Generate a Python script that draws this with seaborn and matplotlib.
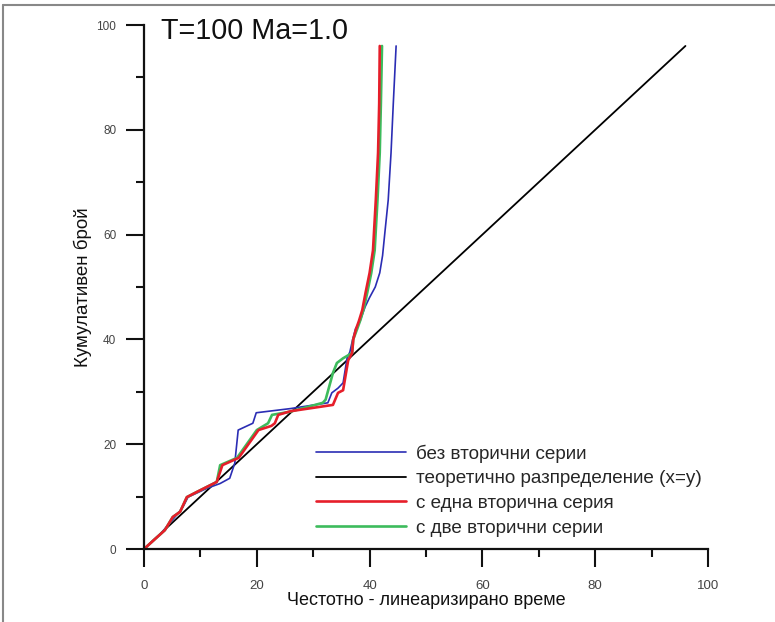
import matplotlib
matplotlib.use("Agg")
import matplotlib.pyplot as plt
import seaborn as sns
import pandas as pd
from matplotlib.lines import Line2D

# ---- data ----
title = "T=100 Ma=1.0"
xlabel = "Честотно - линеаризирано време"
ylabel = "Кумулативен брой"
ticks = [0, 20, 40, 60, 80, 100]
minor_ticks = [10, 30, 50, 70, 90]

names = ["без вторични серии", "теоретично разпределение (x=y)",
         "с една вторична серия", "с две вторични серии"]
colors = ["#2b2db4", "#000000", "#e61e2a", "#3dbb5c"]
widths = [1.2, 1.3, 1.9, 1.9]

blue_x = [0, 3, 5.8, 6.9, 7.8, 11.2, 13.5, 15.2, 16.1, 16.7, 19.3, 19.9, 26, 32.6, 33.3,
          34.4, 35.3, 36.0, 36.5, 37, 37.5, 38.3, 39.2, 40, 41, 41.8, 42.3, 42.7, 43.3,
          43.8, 44.2, 44.7]
blue_y = [0, 3, 6.5, 8, 9.9, 11.6, 12.5, 13.5, 16.4, 22.7, 24, 26, 26.8, 27.9, 29.8,
          30.7, 31.7, 36.4, 37.6, 40, 42, 43.5, 46.2, 48, 50, 52.7, 56, 60.3, 66.6,
          75.6, 85, 96]

theory_x = [0, 96]
theory_y = [0, 96]

red_x = [0, 3.7, 5.1, 6.4, 7.6, 9.4, 12.9, 13.9, 16.8, 20.3, 22.6, 23.2, 23.8, 26,
         33.5, 34.4, 35.3, 36.2, 36.9, 37.1, 37.6, 38.1, 38.7, 39.3, 40, 40.6, 41.1,
         41.5, 41.7, 41.8]
red_y = [0, 3.6, 6.1, 7.1, 9.9, 10.9, 12.8, 16, 17.4, 22.7, 23.5, 24, 25.6, 26.3,
         27.5, 29.8, 30.3, 36, 37.4, 40, 42, 43.5, 45.6, 49, 52.7, 57, 66.6, 75.6,
         85, 96]

green_x = [0, 3.7, 5.1, 6.4, 7.6, 9.4, 12.9, 13.5, 16.5, 20, 22, 22.7, 25.9, 31.7,
           32.2, 33.5, 34.2, 35.3, 36.9, 37.1, 37.8, 38.4, 39.0, 39.6, 40.3, 40.9,
           41.4, 41.8, 42.0, 42.2]
green_y = [0, 3.6, 6.1, 7.1, 9.9, 10.9, 12.8, 16, 17.4, 22.7, 24, 25.6, 26.2, 27.9,
           28.5, 33.6, 35.5, 36.4, 37.4, 40, 42, 43.8, 46, 49, 52.7, 57, 66.6, 75.6,
           85, 96]

series_x = [blue_x, theory_x, red_x, green_x]
series_y = [blue_y, theory_y, red_y, green_y]

rows = []
for n, xs, ys in zip(names, series_x, series_y):
    for i, (a, b) in enumerate(zip(xs, ys)):
        rows.append({"series": n, "order": i, "x": a, "y": b})
df = pd.DataFrame(rows)

sns.set_theme(style="white")
regular = ["Liberation Sans", "DejaVu Sans"]
plt.rcParams["font.family"] = regular

fig = plt.figure(figsize=(7.75, 6.22), dpi=100)
ax = fig.add_axes([144 / 775, 1 - 549 / 622, 564 / 775, 524 / 622])

draw_order = [1, 0, 3, 2]
for k in draw_order:
    sub = df[df["series"] == names[k]]
    sns.lineplot(data=sub, x="x", y="y", sort=False, estimator=None,
                 color=colors[k], linewidth=widths[k], ax=ax, legend=False)

ax.set_xlim(0, 100)
ax.set_ylim(0, 100)
for s in ["top", "right"]:
    ax.spines[s].set_visible(False)
for s in ["left", "bottom"]:
    ax.spines[s].set_linewidth(1.6)
    ax.spines[s].set_color("#111111")

ax.set_xticks(ticks)
ax.set_yticks(ticks)
ax.set_xticks(minor_ticks, minor=True)
ax.set_yticks(minor_ticks, minor=True)
ax.tick_params(which="major", direction="out", length=13, width=1.5, color="#111111",
               bottom=True, left=True, labelcolor="#444444")
ax.tick_params(which="minor", direction="out", length=6, width=1.5, color="#111111",
               bottom=True, left=True)
ax.tick_params(axis="x", which="major", labelsize=9.5, pad=9)
ax.tick_params(axis="y", which="major", labelsize=8.5, pad=7)

ax.set_xlabel(xlabel, fontsize=13, color="#111111", labelpad=0)
ax.set_ylabel(ylabel, fontsize=13.5, color="#111111", labelpad=3)

ax.text(0.03, 0.988, title, transform=ax.transAxes, fontsize=20.7, va="center",
        ha="left", color="#111111")

handles = [Line2D([0], [0], color=c, lw=w) for c, w in zip(colors, widths)]
ax.legend(handles, names, loc="upper left", bbox_to_anchor=(0.305, 0.2),
          frameon=False, fontsize=13.6, handlelength=4.75, handletextpad=0.55,
          labelspacing=0.4, borderpad=0, borderaxespad=0)

# figure frame (top and left edges visible)
fig.add_artist(Line2D([3 / 775, 3 / 775], [0, 1 - 5 / 622], color="#888888", lw=1.5,
                      transform=fig.transFigure))
fig.add_artist(Line2D([3 / 775, 1], [1 - 5 / 622, 1 - 5 / 622], color="#888888", lw=1.5,
                      transform=fig.transFigure))

fig.savefig("out.png", dpi=100)
